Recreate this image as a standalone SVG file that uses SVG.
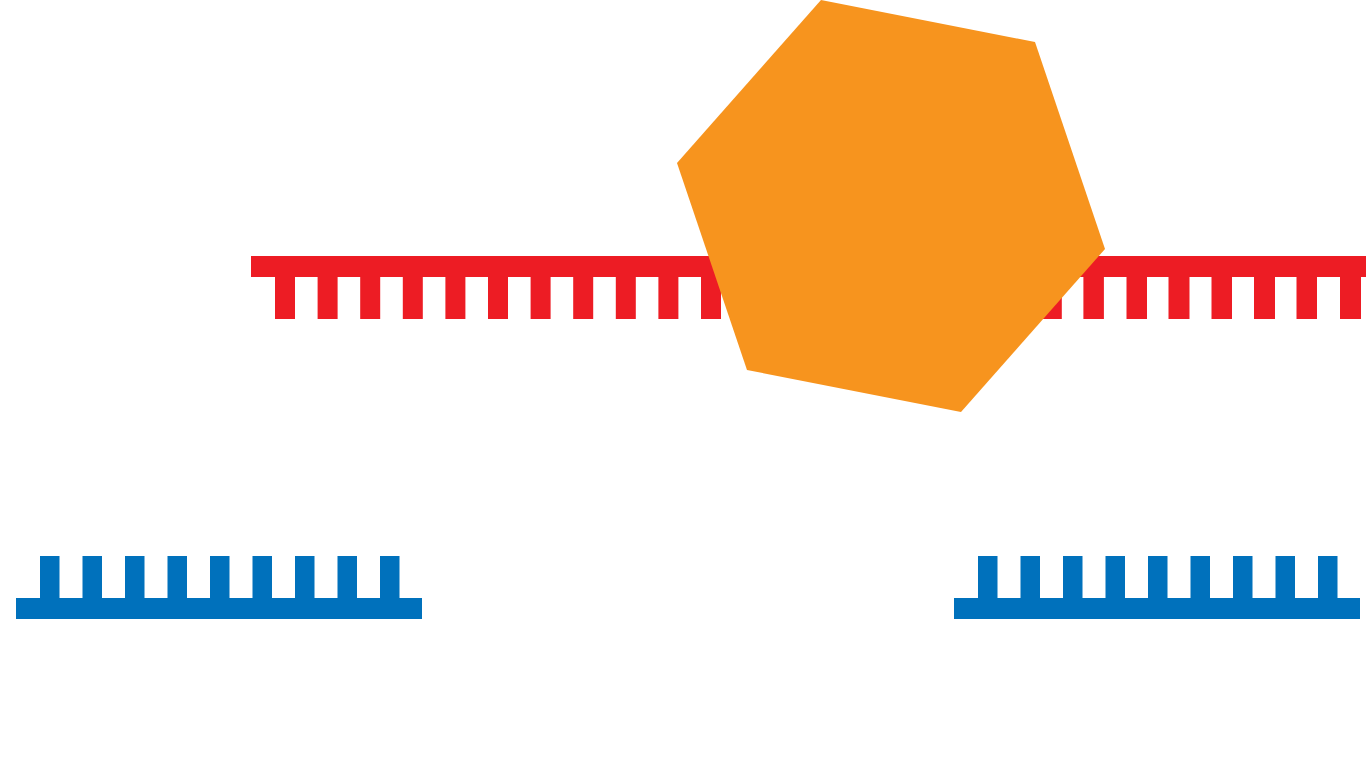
<svg xmlns="http://www.w3.org/2000/svg" width="1366" height="768" viewBox="0 0 1366 768">
<defs>
<style>
.red{fill:#ED1C24}
.blue{fill:#0071BC}
.orange{fill:#F7941E}
</style>
<g id="blueComb">
<rect class="blue" x="16" y="598" width="406" height="21"/>
<rect class="blue" x="40" y="556" width="19.5" height="43"/>
<rect class="blue" x="82.5" y="556" width="19.5" height="43"/>
<rect class="blue" x="125" y="556" width="19.5" height="43"/>
<rect class="blue" x="167.5" y="556" width="19.5" height="43"/>
<rect class="blue" x="210" y="556" width="19.5" height="43"/>
<rect class="blue" x="252.5" y="556" width="19.5" height="43"/>
<rect class="blue" x="295" y="556" width="19.5" height="43"/>
<rect class="blue" x="337.5" y="556" width="19.5" height="43"/>
<rect class="blue" x="380" y="556" width="19.5" height="43"/>
</g>
</defs>
<rect width="1366" height="768" fill="#ffffff"/>
<g id="red-strand">
<rect class="red" x="251" y="256" width="1115" height="21"/>
<rect class="red" x="275" y="276" width="20" height="43"/>
<rect class="red" x="317.6" y="276" width="20" height="43"/>
<rect class="red" x="360.2" y="276" width="20" height="43"/>
<rect class="red" x="402.8" y="276" width="20" height="43"/>
<rect class="red" x="445.4" y="276" width="20" height="43"/>
<rect class="red" x="488" y="276" width="20" height="43"/>
<rect class="red" x="530.6" y="276" width="20" height="43"/>
<rect class="red" x="573.2" y="276" width="20" height="43"/>
<rect class="red" x="615.8" y="276" width="20" height="43"/>
<rect class="red" x="658.4" y="276" width="20" height="43"/>
<rect class="red" x="701" y="276" width="20" height="43"/>
<rect class="red" x="743.6" y="276" width="20" height="43"/>
<rect class="red" x="786.2" y="276" width="20" height="43"/>
<rect class="red" x="828.8" y="276" width="20" height="43"/>
<rect class="red" x="871.4" y="276" width="20" height="43"/>
<rect class="red" x="914" y="276" width="20" height="43"/>
<rect class="red" x="956.6" y="276" width="20" height="43"/>
<rect class="red" x="999.2" y="276" width="20" height="43"/>
<rect class="red" x="1041.8" y="276" width="20" height="43"/>
<rect class="red" x="1083.4" y="276" width="20.5" height="43"/>
<rect class="red" x="1126.5" y="276" width="20.5" height="43"/>
<rect class="red" x="1168.5" y="276" width="21" height="43"/>
<rect class="red" x="1211.5" y="276" width="20.5" height="43"/>
<rect class="red" x="1254" y="276" width="21" height="43"/>
<rect class="red" x="1296.5" y="276" width="20.5" height="43"/>
<rect class="red" x="1340" y="276" width="21" height="43"/>
</g>
<g id="hexagon">
<polygon class="orange" points="821,0 1035,42 1105,249 961,412 747,370 677,163"/>
</g>
<g id="blue-strand-left">
<use href="#blueComb"/>
</g>
<g id="blue-strand-right">
<use href="#blueComb" transform="translate(938,0)"/>
</g>
</svg>
